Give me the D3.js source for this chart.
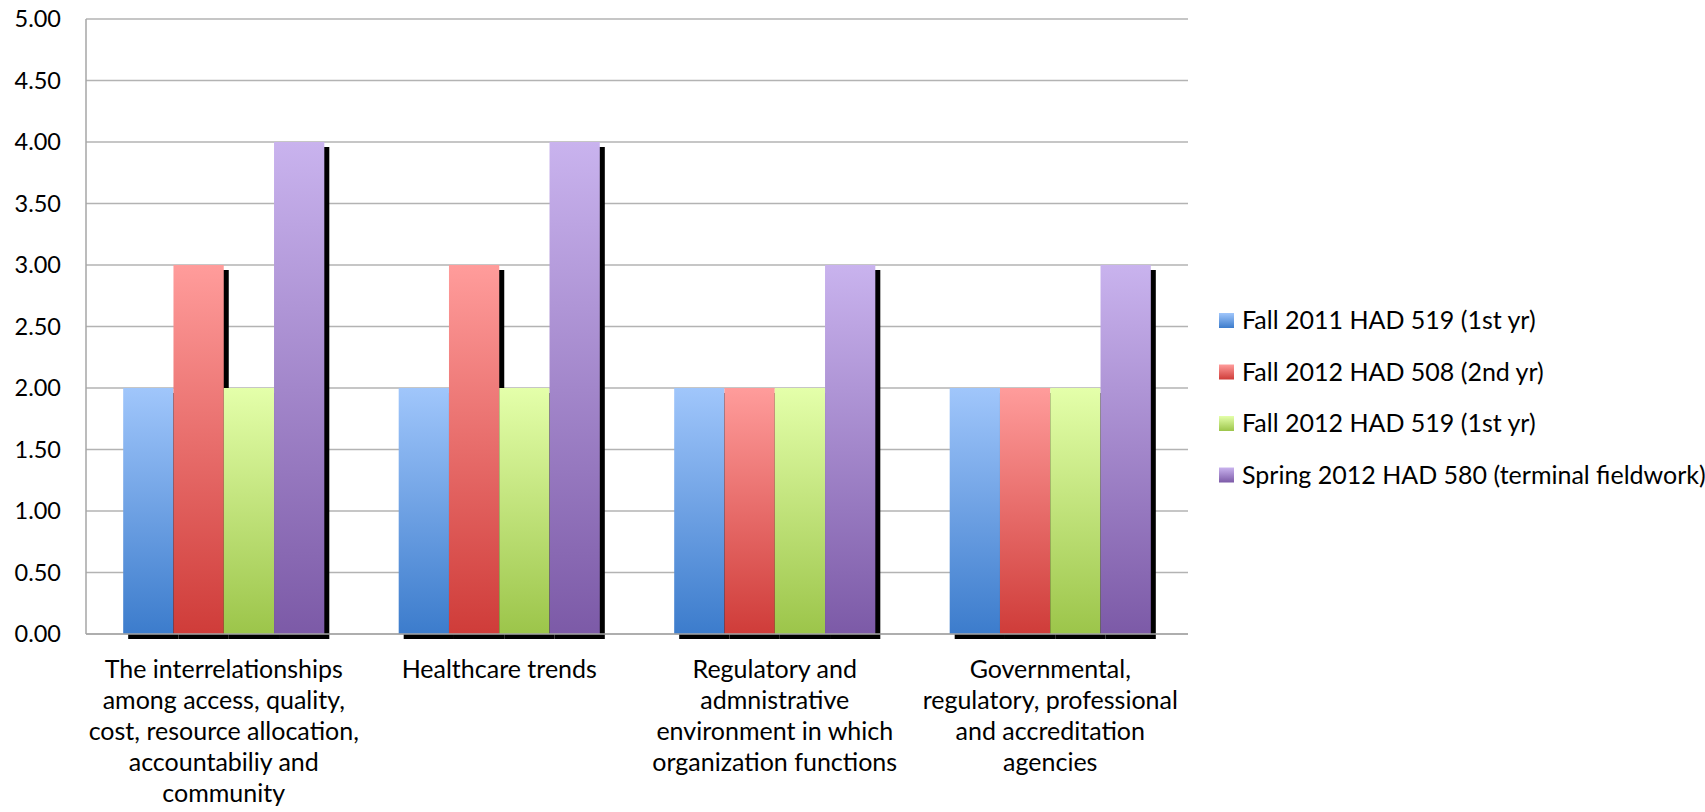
<!DOCTYPE html>
<html>
<head>
<meta charset="utf-8">
<script src="https://cdn.jsdelivr.net/npm/d3@7"></script>
<style>
  body { margin: 0; background: #fff; }
  text { font-family: Lato, "Open Sans", sans-serif; fill: #000; }
</style>
</head>
<body>
<svg id="chart" width="1705" height="812"></svg>
<script>
// category tick labels, already broken into lines as in the chart
const categories = ["c1", "c2", "c3", "c4"];
const categoryLines = [
  ["The interrelationships", "among access, quality,", "cost, resource allocation,", "accountabiliy and", "community"],
  ["Healthcare trends"],
  ["Regulatory and", "admnistrative", "environment in which", "organization functions"],
  ["Governmental,", "regulatory, professional", "and accreditation", "agencies"]
];
const seriesNames = [
  "Fall 2011 HAD 519 (1st yr)",
  "Fall 2012 HAD 508 (2nd yr)",
  "Fall 2012 HAD 519 (1st yr)",
  "Spring 2012 HAD 580 (terminal fieldwork)"
];
const fall2011_519 = [2, 2, 2, 2];
const fall2012_508 = [3, 3, 2, 2];
const fall2012_519 = [2, 2, 2, 2];
const spring2012_580 = [4, 4, 3, 3];
const yTicks = [0, 0.5, 1, 1.5, 2, 2.5, 3, 3.5, 4, 4.5, 5];

const seriesValues = [fall2011_519, fall2012_508, fall2012_519, spring2012_580];
// gradient top / bottom per series
const gradTop = ["#a0c6fb", "#ff9c9b", "#e4ffaa", "#c9b3ee"];
const gradBot = ["#3c7ccc", "#cf3c39", "#9cc54a", "#7c5aa7"];

const svg = d3.select("#chart");
const plotLeft = 86, plotRight = 1188, plotTop = 19, plotBottom = 634;

const x = d3.scaleBand().domain(categories).range([plotLeft, plotRight]).paddingInner(0.27).paddingOuter(0.135);
const xs = d3.scaleBand().domain(d3.range(seriesNames.length)).range([0, x.bandwidth()]);
const y = d3.scaleLinear().domain([0, 5]).range([plotBottom, plotTop]);

const defs = svg.append("defs");
seriesNames.forEach((s, i) => {
  const g = defs.append("linearGradient").attr("id", "grad" + i)
    .attr("x1", 0).attr("y1", 0).attr("x2", 0).attr("y2", 1);
  g.append("stop").attr("offset", "0%").attr("stop-color", gradTop[i]);
  g.append("stop").attr("offset", "100%").attr("stop-color", gradBot[i]);
});

// gridlines
svg.append("g").selectAll("line").data(yTicks).join("line")
  .attr("x1", plotLeft).attr("x2", plotRight)
  .attr("y1", d => y(d)).attr("y2", d => y(d))
  .attr("stroke", "#b3b3b3").attr("stroke-width", 1.5);

// left axis line
svg.append("line").attr("x1", plotLeft).attr("x2", plotLeft).attr("y1", plotTop).attr("y2", plotBottom)
  .attr("stroke", "#a6a6a6").attr("stroke-width", 1.5);

// y labels
const yAxis = d3.axisLeft(y).tickValues(yTicks).tickFormat(d3.format(".2f")).tickSize(0).tickPadding(25);
svg.append("g").attr("transform", `translate(${plotLeft},0)`).call(yAxis)
  .call(g => g.select(".domain").remove())
  .attr("font-family", null).attr("font-size", null)
  .selectAll("text").style("font-size", "23.5px");

// bars with drop shadow
const bars = svg.append("g");
seriesValues.forEach((vals, i) => {
  const g = bars.append("g");
  g.selectAll("rect.shadow").data(vals).join("rect").attr("class", "shadow")
    .attr("x", (d, j) => x(categories[j]) + xs(i) + 5)
    .attr("y", d => y(d) + 5)
    .attr("width", xs.bandwidth())
    .attr("height", d => plotBottom - y(d))
    .attr("fill", "#000");
  g.selectAll("rect.bar").data(vals).join("rect").attr("class", "bar")
    .attr("x", (d, j) => x(categories[j]) + xs(i))
    .attr("y", d => y(d))
    .attr("width", xs.bandwidth())
    .attr("height", d => plotBottom - y(d))
    .attr("fill", `url(#grad${i})`);
});

// x axis line
svg.append("line").attr("x1", plotLeft).attr("x2", plotRight).attr("y1", plotBottom).attr("y2", plotBottom)
  .attr("stroke", "#a6a6a6").attr("stroke-width", 1.5);

// category labels
const labels = svg.append("g").selectAll("text").data(categories).join("text")
  .attr("text-anchor", "middle")
  .style("font-size", "25px");
labels.each(function(c, j) {
  d3.select(this).selectAll("tspan").data(categoryLines[j]).join("tspan")
    .attr("x", x(c) + x.bandwidth() / 2)
    .attr("y", (d, k) => 678 + k * 31)
    .text(d => d);
});

// legend
const legend = svg.append("g").attr("transform", "translate(1219,313)");
const item = legend.selectAll("g").data(seriesNames).join("g")
  .attr("transform", (d, i) => `translate(0,${i * 51.5})`);
item.append("rect").attr("width", 15).attr("height", 15)
  .attr("fill", (d, i) => `url(#grad${i})`);
item.append("text").attr("x", 23).attr("y", 16)
  .style("font-size", "25px").text(d => d);
</script>
</body>
</html>
